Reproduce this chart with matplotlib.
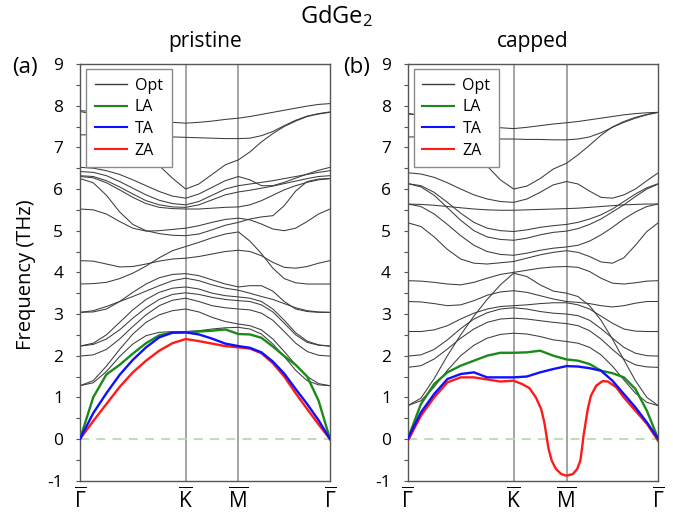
import matplotlib
matplotlib.use("Agg")
import matplotlib.pyplot as plt
from matplotlib.lines import Line2D

plt.rcParams['font.family'] = ['Open Sans', 'DejaVu Sans']
plt.rcParams['mathtext.fontset'] = 'custom'
plt.rcParams['mathtext.rm'] = 'Open Sans'
plt.rcParams['mathtext.it'] = 'Open Sans:italic'
plt.rcParams['mathtext.bf'] = 'Open Sans:bold'
plt.rcParams['axes.unicode_minus'] = False

# ---- k-path (Gamma - K - M - Gamma, hexagonal BZ, path length units) ----
k_path = [0.0, 0.125, 0.25, 0.375, 0.5, 0.625, 0.75, 0.875, 1.0,
          1.125, 1.25, 1.375, 1.5,
          1.608, 1.717, 1.825, 1.933, 2.041, 2.15, 2.258, 2.366]
k_ticks = [0.0, 1.0, 1.5, 2.366]
k_labels = [r'$\overline{\Gamma}$', r'$\overline{\mathrm{K}}$',
            r'$\overline{\mathrm{M}}$', r'$\overline{\Gamma}$']

# ---- pristine GdGe2 (THz) ----
pristine_la = [0, 1.00, 1.55, 1.78, 2.05, 2.30, 2.49, 2.56, 2.56, 2.58, 2.60, 2.63, 2.52,
               2.51, 2.43, 2.22, 1.99, 1.78, 1.50, 0.92, 0]
pristine_ta = [0, 0.62, 1.10, 1.54, 1.90, 2.20, 2.44, 2.55, 2.56, 2.51, 2.41, 2.29, 2.23,
               2.19, 2.08, 1.86, 1.57, 1.20, 0.84, 0.45, 0]
pristine_za = [0, 0.43, 0.84, 1.25, 1.60, 1.88, 2.12, 2.30, 2.40, 2.35, 2.29, 2.23, 2.20,
               2.17, 2.06, 1.82, 1.50, 1.10, 0.72, 0.35, 0]
pristine_opt = [
    [7.88, 7.86, 7.82, 7.77, 7.72, 7.67, 7.63, 7.60, 7.58, 7.60, 7.63, 7.67, 7.70, 7.74, 7.79, 7.84, 7.89, 7.94, 7.99, 8.03, 8.05],
    [7.30, 7.30, 7.30, 7.29, 7.28, 7.27, 7.26, 7.25, 7.24, 7.23, 7.22, 7.21, 7.21, 7.22, 7.28, 7.38, 7.52, 7.65, 7.75, 7.81, 7.85],
    [7.86, 7.80, 7.66, 7.44, 7.16, 6.86, 6.56, 6.26, 6.00, 6.12, 6.35, 6.58, 6.70, 6.89, 7.13, 7.33, 7.50, 7.63, 7.74, 7.80, 7.84],
    [6.52, 6.50, 6.44, 6.35, 6.22, 6.08, 5.94, 5.83, 5.78, 5.88, 6.04, 6.20, 6.30, 6.22, 6.08, 6.08, 6.16, 6.26, 6.36, 6.45, 6.52],
    [6.42, 6.40, 6.32, 6.18, 6.02, 5.86, 5.73, 5.65, 5.62, 5.70, 5.85, 6.00, 6.08, 6.12, 6.16, 6.20, 6.25, 6.30, 6.35, 6.40, 6.44],
    [6.32, 6.30, 6.20, 6.05, 5.88, 5.72, 5.62, 5.57, 5.56, 5.62, 5.74, 5.86, 5.93, 5.97, 6.02, 6.07, 6.13, 6.19, 6.25, 6.30, 6.32],
    [6.25, 6.15, 5.85, 5.45, 5.15, 5.00, 4.93, 4.89, 4.88, 4.92, 5.02, 5.13, 5.20, 5.28, 5.33, 5.36, 5.60, 5.95, 6.18, 6.24, 6.25],
    [5.52, 5.50, 5.40, 5.22, 5.06, 4.99, 5.00, 5.03, 5.06, 5.12, 5.20, 5.27, 5.30, 5.26, 5.16, 5.04, 5.00, 5.06, 5.22, 5.40, 5.52],
    [6.30, 6.27, 6.15, 5.98, 5.80, 5.65, 5.56, 5.53, 5.52, 5.52, 5.54, 5.56, 5.57, 5.62, 5.72, 5.85, 5.98, 6.08, 6.16, 6.22, 6.25],
    [4.28, 4.27, 4.20, 4.13, 4.14, 4.20, 4.27, 4.32, 4.34, 4.38, 4.44, 4.50, 4.53, 4.50, 4.40, 4.24, 4.12, 4.10, 4.14, 4.22, 4.28],
    [3.72, 3.73, 3.76, 3.85, 3.98, 4.15, 4.35, 4.52, 4.62, 4.72, 4.83, 4.92, 4.97, 4.75, 4.45, 4.10, 3.85, 3.75, 3.72, 3.72, 3.72],
    [3.04, 3.05, 3.12, 3.30, 3.52, 3.72, 3.87, 3.95, 3.97, 3.92, 3.82, 3.72, 3.65, 3.68, 3.68, 3.55, 3.30, 3.12, 3.06, 3.04, 3.04],
    [3.04, 3.08, 3.18, 3.30, 3.42, 3.55, 3.68, 3.80, 3.86, 3.80, 3.70, 3.62, 3.57, 3.50, 3.42, 3.35, 3.25, 3.15, 3.08, 3.05, 3.04],
    [2.23, 2.30, 2.50, 2.80, 3.10, 3.35, 3.52, 3.62, 3.65, 3.60, 3.50, 3.44, 3.41, 3.38, 3.30, 3.12, 2.85, 2.55, 2.35, 2.26, 2.23],
    [2.23, 2.27, 2.40, 2.62, 2.90, 3.15, 3.35, 3.47, 3.51, 3.47, 3.40, 3.35, 3.32, 3.30, 3.22, 3.05, 2.78, 2.50, 2.32, 2.25, 2.23],
    [1.99, 2.02, 2.15, 2.40, 2.70, 2.98, 3.20, 3.33, 3.38, 3.30, 3.20, 3.15, 3.12, 3.10, 3.02, 2.85, 2.58, 2.30, 2.10, 2.01, 1.99],
    [1.28, 1.40, 1.75, 2.15, 2.52, 2.80, 2.98, 3.08, 3.12, 3.05, 2.92, 2.82, 2.76, 2.72, 2.62, 2.40, 2.10, 1.78, 1.50, 1.33, 1.28],
    [1.28, 1.35, 1.62, 1.98, 2.28, 2.48, 2.56, 2.58, 2.58, 2.60, 2.64, 2.67, 2.68, 2.64, 2.52, 2.28, 1.98, 1.65, 1.40, 1.30, 1.28],
]

# ---- capped GdGe2 (THz) ----
capped_la = [0, 0.84, 1.32, 1.60, 1.76, 1.88, 2.00, 2.07, 2.07, 2.08, 2.12, 2.00, 1.91,
             1.88, 1.80, 1.64, 1.58, 1.48, 1.20, 0.68, 0]
capped_ta = [0, 0.64, 1.08, 1.44, 1.56, 1.60, 1.48, 1.48, 1.48, 1.50, 1.60, 1.68, 1.75,
             1.74, 1.70, 1.64, 1.40, 1.08, 0.76, 0.40, 0]
k_capped_za = [0.0, 0.125, 0.25, 0.375, 0.5, 0.625, 0.75, 0.875, 1.0,
               1.08, 1.15, 1.21, 1.26, 1.29, 1.31, 1.33, 1.36, 1.40, 1.45, 1.5,
               1.56, 1.6, 1.63, 1.645, 1.66, 1.68, 1.70, 1.73, 1.78, 1.84, 1.89,
               1.97, 2.04, 2.15, 2.26, 2.366]
capped_za = [-0.05, 0.56, 1.00, 1.36, 1.48, 1.48, 1.43, 1.38, 1.40,
             1.32, 1.22, 1.00, 0.72, 0.40, 0.08, -0.24, -0.52, -0.72, -0.84, -0.88,
             -0.84, -0.72, -0.52, -0.24, 0.08, 0.40, 0.72, 1.04, 1.28, 1.39, 1.38,
             1.24, 1.00, 0.68, 0.36, -0.05]
capped_opt = [
    [7.80, 7.78, 7.74, 7.68, 7.62, 7.56, 7.51, 7.47, 7.45, 7.48, 7.52, 7.56, 7.59, 7.62, 7.66, 7.70, 7.74, 7.78, 7.81, 7.83, 7.84],
    [7.25, 7.25, 7.24, 7.23, 7.22, 7.21, 7.20, 7.20, 7.20, 7.19, 7.19, 7.18, 7.18, 7.20, 7.25, 7.35, 7.48, 7.60, 7.70, 7.78, 7.84],
    [7.82, 7.76, 7.62, 7.42, 7.15, 6.85, 6.55, 6.22, 6.00, 6.07, 6.25, 6.48, 6.62, 6.82, 7.05, 7.29, 7.49, 7.62, 7.72, 7.79, 7.84],
    [6.39, 6.36, 6.28, 6.15, 6.00, 5.86, 5.76, 5.70, 5.68, 5.76, 5.92, 6.10, 6.18, 6.12, 5.95, 5.80, 5.78, 5.86, 6.00, 6.20, 6.39],
    [6.13, 6.08, 5.92, 5.68, 5.42, 5.20, 5.06, 5.00, 4.98, 5.02, 5.08, 5.12, 5.15, 5.20, 5.28, 5.38, 5.52, 5.70, 5.88, 6.03, 6.13],
    [6.13, 6.05, 5.85, 5.55, 5.25, 5.00, 4.85, 4.79, 4.77, 4.82, 4.90, 4.96, 4.99, 5.05, 5.15, 5.28, 5.45, 5.62, 5.82, 6.00, 6.12],
    [5.64, 5.63, 5.61, 5.58, 5.55, 5.52, 5.50, 5.49, 5.49, 5.50, 5.51, 5.52, 5.53, 5.54, 5.56, 5.58, 5.60, 5.62, 5.63, 5.64, 5.64],
    [5.64, 5.58, 5.40, 5.15, 4.88, 4.65, 4.50, 4.43, 4.41, 4.46, 4.53, 4.58, 4.61, 4.65, 4.75, 4.90, 5.08, 5.28, 5.45, 5.58, 5.64],
    [5.19, 5.10, 4.85, 4.55, 4.32, 4.22, 4.20, 4.23, 4.26, 4.34, 4.42, 4.48, 4.52, 4.48, 4.38, 4.25, 4.22, 4.35, 4.65, 4.98, 5.19],
    [3.80, 3.79, 3.76, 3.72, 3.70, 3.76, 3.86, 3.95, 4.00, 4.05, 4.10, 4.13, 4.14, 4.12, 4.02, 3.86, 3.74, 3.72, 3.75, 3.79, 3.80],
    [3.30, 3.29, 3.25, 3.20, 3.22, 3.32, 3.45, 3.53, 3.56, 3.52, 3.44, 3.36, 3.30, 3.28, 3.25, 3.20, 3.17, 3.20, 3.26, 3.30, 3.30],
    [2.58, 2.58, 2.62, 2.72, 2.88, 3.02, 3.12, 3.18, 3.20, 3.22, 3.25, 3.27, 3.27, 3.22, 3.12, 2.95, 2.78, 2.64, 2.59, 2.58, 2.58],
    [1.99, 2.02, 2.15, 2.38, 2.65, 2.88, 3.03, 3.12, 3.15, 3.12, 3.06, 3.02, 3.00, 2.96, 2.85, 2.65, 2.42, 2.20, 2.06, 2.00, 1.99],
    [1.72, 1.76, 1.92, 2.16, 2.42, 2.64, 2.80, 2.88, 2.90, 2.88, 2.84, 2.80, 2.77, 2.72, 2.60, 2.40, 2.15, 1.92, 1.78, 1.73, 1.72],
    [0.80, 0.92, 1.25, 1.65, 2.00, 2.25, 2.42, 2.51, 2.54, 2.52, 2.46, 2.38, 2.34, 2.30, 2.20, 2.02, 1.75, 1.42, 1.10, 0.88, 0.80],
    [0.80, 0.98, 1.45, 2.00, 2.50, 2.95, 3.35, 3.70, 3.98, 3.90, 3.70, 3.55, 3.50, 3.42, 3.20, 2.85, 2.40, 1.90, 1.40, 1.00, 0.80],
]

C_OPT = '#3c3c3c'
C_LA = '#1b8a1b'
C_TA = '#1010ff'
C_ZA = '#ff1a1a'

W, H = 673, 516
fig = plt.figure(figsize=(W / 100, H / 100), dpi=100)


def px_axes(x0, x1, ytop, ybot):
    return fig.add_axes([x0 / W, 1 - ybot / H, (x1 - x0) / W, (ybot - ytop) / H])


def draw_panel(ax, opt, la, ta, k_za, za):
    for kx in k_ticks[1:3]:
        ax.axvline(kx, color='#8c8c8c', lw=1.1, zorder=1)
    ax.axhline(0, color='#b3ddb0', lw=1.3, dashes=(5, 4), zorder=1)
    for band in opt:
        ax.plot(k_path, band, color=C_OPT, lw=0.75, zorder=2)
    ax.plot(k_za, za, color=C_ZA, lw=1.7, zorder=3)
    ax.plot(k_path, la, color=C_LA, lw=1.7, zorder=4)
    ax.plot(k_path, ta, color=C_TA, lw=1.7, zorder=5)

    ax.set_xlim(0, k_ticks[-1])
    ax.set_ylim(-1, 9)
    ax.set_xticks(k_ticks)
    ax.set_xticklabels(k_labels, fontsize=15)
    ax.tick_params(axis='x', length=0, pad=5)
    ax.set_yticks(range(-1, 10))
    ax.set_yticks([v + 0.5 for v in range(-1, 9)], minor=True)
    ax.tick_params(axis='y', which='both', direction='out', length=3,
                   width=0.8, color='#555555', labelsize=12.5, pad=9)
    for s in ax.spines.values():
        s.set_color('#555555')
        s.set_linewidth(1.0)

    handles = [Line2D([], [], color=C_OPT, lw=1.0),
               Line2D([], [], color=C_LA, lw=1.5),
               Line2D([], [], color=C_TA, lw=1.5),
               Line2D([], [], color=C_ZA, lw=1.5)]
    leg = ax.legend(handles, ['Opt', 'LA', 'TA', 'ZA'], loc='upper left',
                    bbox_to_anchor=(0.024, 0.988), borderaxespad=0,
                    fontsize=11.5, handlelength=2.0, handletextpad=0.5,
                    labelspacing=0.35, borderpad=0.55, fancybox=False,
                    framealpha=1.0, edgecolor='#8a8a8a')
    leg.get_frame().set_linewidth(1.0)
    leg.set_zorder(10)


ax1 = px_axes(80, 330, 64, 480.7)
ax2 = px_axes(407.7, 658.3, 64, 480.7)

draw_panel(ax1, pristine_opt, pristine_la, pristine_ta, k_path, pristine_za)
draw_panel(ax2, capped_opt, capped_la, capped_ta, k_capped_za, capped_za)

fig.text(336 / W, 1 - 16 / H, 'GdGe$_2$', ha='center', va='center', fontsize=17)
fig.text(205 / W, 1 - 42 / H, 'pristine', ha='center', va='center', fontsize=15)
fig.text(533 / W, 1 - 42 / H, 'capped', ha='center', va='center', fontsize=15)
fig.text(25 / W, 1 - 68 / H, '(a)', ha='center', va='center', fontsize=16)
fig.text(357 / W, 1 - 68 / H, '(b)', ha='center', va='center', fontsize=16)
fig.text(26 / W, 1 - 275 / H, 'Frequency (THz)', ha='center', va='center',
         rotation=90, fontsize=14.5)

fig.savefig('out.png', dpi=100)
